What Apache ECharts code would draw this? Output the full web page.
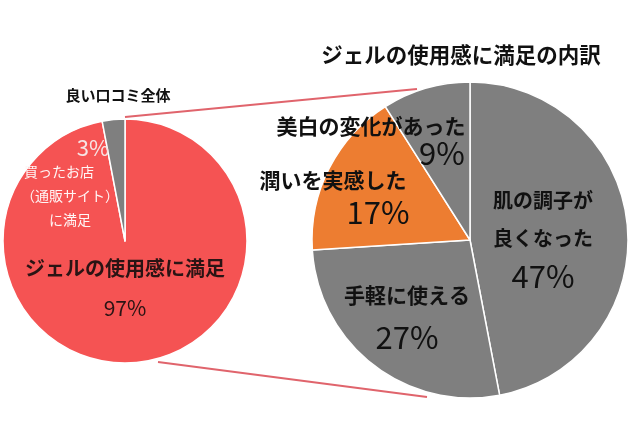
<!DOCTYPE html>
<html><head><meta charset="utf-8">
<script src="https://cdn.jsdelivr.net/npm/echarts@6/dist/echarts.min.js"></script>
<style>html,body{margin:0;padding:0;background:#fff}#c{width:640px;height:430px}</style>
</head><body><div id="c"></div>
<script>
// ---- data ----
const leftTitle = '良い口コミ全体';
const rightTitle = 'ジェルの使用感に満足の内訳';
const overallNames = ['ジェルの使用感に満足', '買ったお店\n（通販サイト）\nに満足'];
const overallValues = [97, 3];
const breakdownNames = ['肌の調子が\n良くなった', '手軽に使える', '潤いを実感した', '美白の変化があった'];
const breakdownValues = [47, 27, 17, 9];

// ---- styling / layout ----
const FONT = '"Noto Sans CJK JP", "Noto Sans", sans-serif';
const RED = '#F55353', GRAY = '#7F7F7F', ORANGE = '#ED7D31', LINK = '#E0646C';
const overallColors = [RED, GRAY];
const breakdownColors = [GRAY, GRAY, ORANGE, GRAY];
const L = {c: [125, 241], r: 122};
const R = {c: [470, 240], r: 158};
// label anchor points (block centres) and per-label styling
const overallLabelPos = [[125, 288], [70, 184]];
const breakdownLabelPos = [[543, 238], [407, 316], [333, 196], [371, 140]];

function richFor(nameSize, pctSize, lh, nameColor, pctColor, pctShift, firstShift) {
  const n = {fontFamily: FONT, fontSize: nameSize, fontWeight: 'bold', color: nameColor, lineHeight: lh};
  return {
    n: n,
    a: Object.assign({}, n, {padding: [0, (firstShift || 0) * 2, 0, 0]}),
    p: {fontFamily: FONT, fontSize: pctSize, fontWeight: 'normal', color: pctColor, lineHeight: lh,
        padding: [0, 0, 0, pctShift * 2]}
  };
}
const overallLabelStyle = [
  {rich: richFor(20, 21, 40, '#2a1414', '#2a1414', 0), pctFirst: false},
  {rich: richFor(14, 22, 24, '#fff6f6', '#f6e4e4', 23, 11), pctFirst: true}
];
overallLabelStyle[1].rich.n.fontWeight = 'normal';
overallLabelStyle[1].rich.a.fontWeight = 'normal';
const breakdownLabelStyle = [
  {rich: richFor(20, 31, 38, '#111', '#111', 0)},
  {rich: richFor(21, 31, 42, '#111', '#111', 0)},
  {rich: richFor(21, 31, 32, '#111', '#111', 45)},
  {rich: richFor(21, 31, 27, '#111', '#111', 71)}
];

function fmt(name, value, pctFirst) {
  const lines = name.split('\n').map((s, i) => '{' + (i === 0 ? 'a' : 'n') + '|' + s + '}');
  const p = '{p|' + value + '%}';
  return (pctFirst ? [p].concat(lines) : lines.concat([p])).join('\n');
}

function buildData(names, values, colors, styles) {
  return names.map((n, i) => ({
    name: n, value: values[i],
    itemStyle: {color: colors[i]},
    label: {formatter: fmt(n, values[i], styles[i].pctFirst), rich: styles[i].rich}
  }));
}

const chart = echarts.init(document.getElementById('c'), null, {renderer: 'canvas'});
chart.setOption({
  animation: false,
  backgroundColor: '#fff',
  title: [
    {text: leftTitle, left: 113, top: 83, textAlign: 'center',
     textStyle: {fontFamily: FONT, fontSize: 15, fontWeight: 'bold', color: '#111'}},
    {text: rightTitle, left: 456, top: 39, textAlign: 'center',
     textStyle: {fontFamily: FONT, fontSize: 21.5, fontWeight: 'bold', color: '#111'}}
  ],
  graphic: [
    {type: 'line', z: -1, shape: {x1: 125, y1: 117, x2: 417, y2: 89}, style: {stroke: LINK, lineWidth: 2}},
    {type: 'line', z: -1, shape: {x1: 158, y1: 362, x2: 427, y2: 397}, style: {stroke: LINK, lineWidth: 2}}
  ],
  series: [
    {
      type: 'pie', center: L.c, radius: L.r, startAngle: 90, clockwise: true,
      avoidLabelOverlap: false, silent: true,
      itemStyle: {borderColor: '#fff', borderWidth: 1.5},
      label: {show: true, position: 'inside'},
      labelLine: {show: false},
      labelLayout: p => ({x: overallLabelPos[p.dataIndex][0], y: overallLabelPos[p.dataIndex][1], align: 'center', verticalAlign: 'middle'}),
      data: buildData(overallNames, overallValues, overallColors, overallLabelStyle)
    },
    {
      type: 'pie', center: R.c, radius: R.r, startAngle: 90, clockwise: true,
      avoidLabelOverlap: false, silent: true,
      itemStyle: {borderColor: '#fff', borderWidth: 1.5},
      label: {show: true, position: 'inside'},
      labelLine: {show: false},
      labelLayout: p => ({x: breakdownLabelPos[p.dataIndex][0], y: breakdownLabelPos[p.dataIndex][1], align: 'center', verticalAlign: 'middle'}),
      data: buildData(breakdownNames, breakdownValues, breakdownColors, breakdownLabelStyle)
    }
  ]
});
</script></body></html>
